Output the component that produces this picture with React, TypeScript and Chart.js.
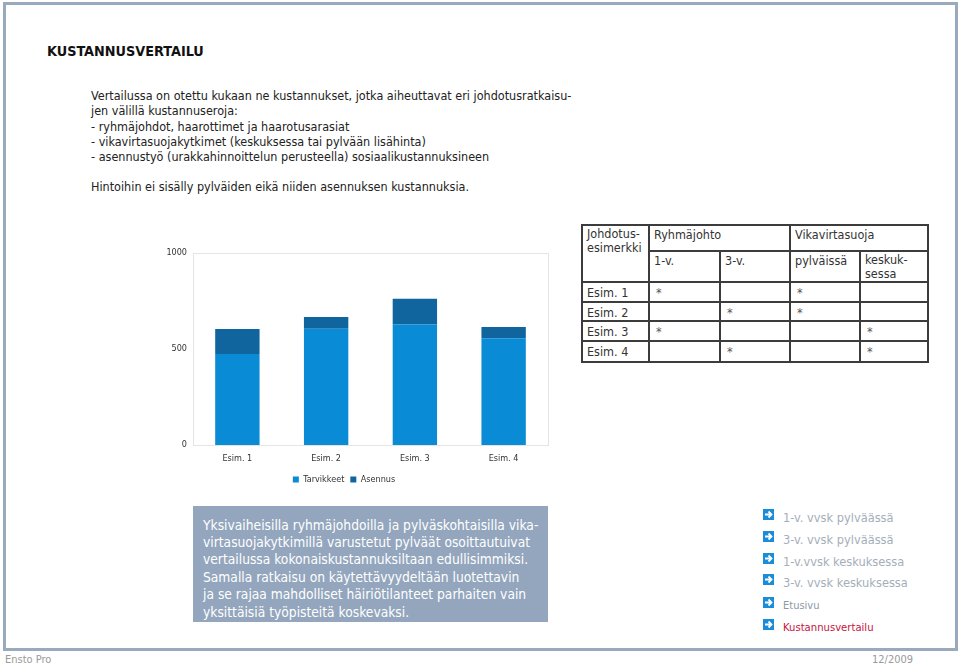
import React, { useEffect, useRef } from "react";
import { Chart, registerables } from "chart.js";
Chart.register(...registerables);

// ---- chart data ----
const categories = ["Esim. 1", "Esim. 2", "Esim. 3", "Esim. 4"];
const tarvikkeet = [474, 606, 628, 556];
const asennus = [130, 61, 134, 59];
const seriesNames = ["Tarvikkeet", "Asennus"];
const yTicks = [0, 500, 1000];

// ---- table data ----
const tableRows = ["Esim. 1", "Esim. 2", "Esim. 3", "Esim. 4"];
const ryhma1v = [true, false, true, false];
const ryhma3v = [false, true, false, true];
const vvPylvaissa = [true, true, false, false];
const vvKeskuksessa = [false, false, true, true];

// ---- texts ----
const title = "KUSTANNUSVERTAILU";
const introLines = [
  "Vertailussa on otettu kukaan ne kustannukset, jotka aiheuttavat eri johdotusratkaisu-",
  "jen välillä kustannuseroja:",
  "- ryhmäjohdot, haarottimet ja haarotusarasiat",
  "- vikavirtasuojakytkimet (keskuksessa tai pylvään lisähinta)",
  "- asennustyö (urakkahinnoittelun perusteella) sosiaalikustannuksineen",
];
const noteLine = "Hintoihin ei sisälly pylväiden eikä niiden asennuksen kustannuksia.";
const boxLines = [
  "Yksivaiheisilla ryhmäjohdoilla ja pylväskohtaisilla vika-",
  "virtasuojakytkimillä varustetut pylväät osoittautuivat",
  "vertailussa kokonaiskustannuksiltaan edullisimmiksi.",
  "Samalla ratkaisu on käytettävyydeltään luotettavin",
  "ja se rajaa mahdolliset häiriötilanteet parhaiten vain",
  "yksittäisiä työpisteitä koskevaksi.",
];
const linkLabels = [
  "1-v. vvsk pylväässä",
  "3-v. vvsk pylväässä",
  "1-v.vvsk keskuksessa",
  "3-v. vvsk keskuksessa",
  "Etusivu",
  "Kustannusvertailu",
];

const F = '"DejaVu Sans Condensed", "DejaVu Sans", sans-serif';
const LIGHT = "#0a8bd6";
const DARK = "#11659f";

function BarChart() {
  const ref = useRef<HTMLCanvasElement | null>(null);
  useEffect(() => {
    if (!ref.current) return;
    const boxPlugin = {
      id: "plotBox",
      beforeDatasetsDraw(chart: any) {
        const { ctx, chartArea } = chart;
        ctx.save();
        ctx.strokeStyle = "#e4e4e4";
        ctx.lineWidth = 1;
        ctx.strokeRect(
          Math.round(chartArea.left) + 0.5,
          Math.round(chartArea.top) + 0.5,
          Math.round(chartArea.right - chartArea.left),
          Math.round(chartArea.bottom - chartArea.top)
        );
        ctx.restore();
      },
    };
    const chart = new Chart(ref.current, {
      type: "bar",
      data: {
        labels: categories,
        datasets: [
          { label: seriesNames[0], data: tarvikkeet, backgroundColor: LIGHT, barPercentage: 0.5, categoryPercentage: 1 },
          { label: seriesNames[1], data: asennus, backgroundColor: DARK, barPercentage: 0.5, categoryPercentage: 1 },
        ],
      },
      options: {
        animation: false,
        responsive: false,
        layout: { padding: { top: 13, right: 4, left: 0, bottom: 0 } },
        plugins: {
          legend: {
            position: "bottom",
            labels: {
              boxWidth: 6,
              boxHeight: 6,
              padding: 6,
              color: "#333",
              font: { family: F, size: 9 },
            },
          },
          tooltip: { enabled: false },
        },
        scales: {
          x: {
            stacked: true,
            grid: { display: false, drawTicks: false },
            border: { display: false },
            ticks: { color: "#333", font: { family: F, size: 9 }, padding: 8 },
            afterFit: (s: any) => { s.height = 24; },
          },
          y: {
            stacked: true,
            min: 0,
            max: 1000,
            afterBuildTicks: (s: any) => { s.ticks = yTicks.map((v) => ({ value: v })); },
            grid: { display: false, drawTicks: false },
            border: { display: false },
            ticks: { color: "#333", font: { family: F, size: 9 }, padding: 6, callback: (v: any) => String(v) },
            afterFit: (s: any) => { s.width = 53; },
          },
        },
      },
      plugins: [boxPlugin],
    });
    return () => chart.destroy();
  }, []);
  return (
    <canvas
      ref={ref}
      width={412}
      height={254}
      style={{ position: "absolute", left: 140, top: 240, width: 412, height: 254 }}
    />
  );
}

function Arrow() {
  return (
    <svg width="11" height="11" viewBox="0 0 11 11" style={{ display: "block" }}>
      <rect x="0" y="0" width="11" height="11" fill="#1b8dd8" />
      <path d="M2 5.5 H8 M5.5 2.5 L8.5 5.5 L5.5 8.5" stroke="#fff" strokeWidth="1.8" fill="none" />
    </svg>
  );
}

export default function App() {
  useEffect(() => {
    document.body.style.margin = "0";
  }, []);
  const cellBase: React.CSSProperties = {
    border: "2px solid #3c3c3c",
    padding: "2px 0 0 4px",
    verticalAlign: "top",
    textAlign: "left",
    fontWeight: "normal",
    overflow: "hidden",
    whiteSpace: "nowrap",
  };
  const star = (b: boolean) => (b ? <span style={{ color: "#555", paddingLeft: 2 }}>*</span> : null);
  const linkColors = ["#a4aeba", "#a4aeba", "#a4aeba", "#a4aeba", "#8c98a6", "#c8143c"];
  const linkSizes = [12.7, 12.7, 12.7, 12.7, 11, 11.2];
  const linkY = [518, 540, 562, 583, 606, 628];
  const rowCell = { ...cellBase, paddingTop: 3, lineHeight: "14px" };
  const twoLine = { ...cellBase, lineHeight: "14px", paddingTop: 1 };
  return (
    <div style={{ position: "absolute", left: 0, top: 0, width: 960, height: 669, background: "#fff", fontFamily: F, overflow: "hidden" }}>
      {/* frame */}
      <div style={{ position: "absolute", left: 3, top: 2, width: 955, height: 649, border: "3px solid #9aaabd", boxSizing: "border-box" }} />

      {/* title */}
      <div style={{ position: "absolute", left: 47, top: 43, fontSize: 14.3, lineHeight: "16px", fontWeight: "bold", color: "#111", whiteSpace: "nowrap" }}>{title}</div>

      {/* intro */}
      {introLines.map((t, i) => (
        <div key={i} style={{ position: "absolute", left: 91, top: 88 + i * 15.3, fontSize: 12.5, lineHeight: "15px", color: "#222", whiteSpace: "nowrap" }}>{t}</div>
      ))}
      <div style={{ position: "absolute", left: 91, top: 179, fontSize: 12.5, lineHeight: "15px", color: "#222", whiteSpace: "nowrap" }}>{noteLine}</div>

      <BarChart />

      {/* table */}
      <table style={{ position: "absolute", left: 581, top: 224, width: 348, borderCollapse: "collapse", tableLayout: "fixed", fontSize: 12.5, lineHeight: "14px", color: "#333", fontFamily: F }}>
        <colgroup>
          <col style={{ width: 67 }} />
          <col style={{ width: 71 }} />
          <col style={{ width: 70 }} />
          <col style={{ width: 70 }} />
          <col style={{ width: 68 }} />
        </colgroup>
        <tbody>
          <tr style={{ height: 26 }}>
            <td rowSpan={2} style={twoLine}>Johdotus-<br />esimerkki</td>
            <td colSpan={2} style={cellBase}>Ryhmäjohto</td>
            <td colSpan={2} style={cellBase}>Vikavirtasuoja</td>
          </tr>
          <tr style={{ height: 31 }}>
            <td style={cellBase}>1-v.</td>
            <td style={cellBase}>3-v.</td>
            <td style={cellBase}>pylväissä</td>
            <td style={twoLine}>keskuk-<br />sessa</td>
          </tr>
          {tableRows.map((r, i) => (
            <tr key={r} style={{ height: i === 3 ? 21 : 19.5 }}>
              <td style={rowCell}>{r}</td>
              <td style={rowCell}>{star(ryhma1v[i])}</td>
              <td style={rowCell}>{star(ryhma3v[i])}</td>
              <td style={rowCell}>{star(vvPylvaissa[i])}</td>
              <td style={rowCell}>{star(vvKeskuksessa[i])}</td>
            </tr>
          ))}
        </tbody>
      </table>

      {/* conclusion box */}
      <div style={{ position: "absolute", left: 193, top: 506, width: 355, height: 116, background: "#93a6bd" }}>
        {boxLines.map((t, i) => (
          <div key={i} style={{ position: "absolute", left: 10, top: 11.5 + i * 17.4, fontSize: 13.7, lineHeight: "15px", color: "#fff", whiteSpace: "nowrap" }}>{t}</div>
        ))}
      </div>

      {/* links */}
      {linkLabels.map((t, i) => (
        <React.Fragment key={i}>
          <div style={{ position: "absolute", left: 763, top: linkY[i] - 9 }}><Arrow /></div>
          <div style={{ position: "absolute", left: 783, top: linkY[i] - 8, fontSize: linkSizes[i], lineHeight: "16px", color: linkColors[i], whiteSpace: "nowrap" }}>{t}</div>
        </React.Fragment>
      ))}

      {/* footer */}
      <div style={{ position: "absolute", left: 5, top: 653, fontSize: 11, lineHeight: "14px", color: "#9a9a9a" }}>Ensto Pro</div>
      <div style={{ position: "absolute", left: 872, top: 653, fontSize: 11, lineHeight: "14px", color: "#9a9a9a" }}>12/2009</div>
    </div>
  );
}
